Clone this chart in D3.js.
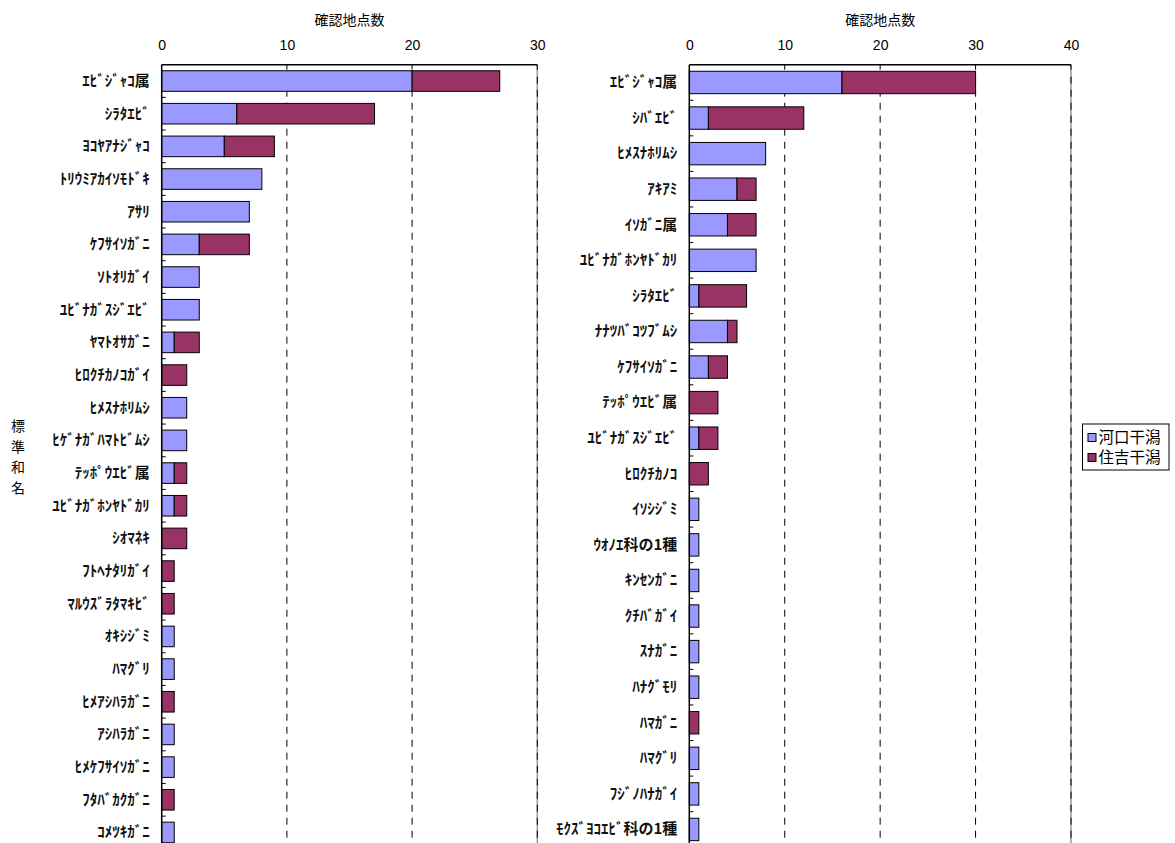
<!DOCTYPE html>
<html>
<head>
<meta charset="utf-8">
<script src="https://cdn.jsdelivr.net/npm/d3@7"></script>
<style>
  body { margin: 0; background: #fff; }
  svg { display: block; }
  .cat text { font-family: "Noto Sans CJK JP", sans-serif; font-size: 15px; font-weight: bold; fill: #111; }
  .num text { font-family: "Liberation Sans", Arial, sans-serif; font-size: 14px; fill: #000; }
  .ttl { font-family: "Noto Sans CJK JP", sans-serif; font-size: 14px; fill: #000; }
</style>
</head>
<body>
<script>
// 左：河口/住吉 上位種
var leftCategories = ['ｴﾋﾞｼﾞｬｺ属', 'ｼﾗﾀｴﾋﾞ', 'ﾖｺﾔｱﾅｼﾞｬｺ', 'ﾄﾘｳﾐｱｶｲｿﾓﾄﾞｷ', 'ｱｻﾘ', 'ｹﾌｻｲｿｶﾞﾆ',
    'ｿﾄｵﾘｶﾞｲ', 'ﾕﾋﾞﾅｶﾞｽｼﾞｴﾋﾞ', 'ﾔﾏﾄｵｻｶﾞﾆ', 'ﾋﾛｸﾁｶﾉｺｶﾞｲ', 'ﾋﾒｽﾅﾎﾘﾑｼ', 'ﾋｹﾞﾅｶﾞﾊﾏﾄﾋﾞﾑｼ',
    'ﾃｯﾎﾟｳｴﾋﾞ属', 'ﾕﾋﾞﾅｶﾞﾎﾝﾔﾄﾞｶﾘ', 'ｼｵﾏﾈｷ', 'ﾌﾄﾍﾅﾀﾘｶﾞｲ', 'ﾏﾙｳｽﾞﾗﾀﾏｷﾋﾞ', 'ｵｷｼｼﾞﾐ',
    'ﾊﾏｸﾞﾘ', 'ﾋﾒｱｼﾊﾗｶﾞﾆ', 'ｱｼﾊﾗｶﾞﾆ', 'ﾋﾒｹﾌｻｲｿｶﾞﾆ', 'ﾌﾀﾊﾞｶｸｶﾞﾆ', 'ｺﾒﾂｷｶﾞﾆ'];
var leftKawaguchi = [20, 6, 5, 8, 7, 3, 3, 3, 1, 0, 2, 2, 1, 1, 0, 0, 0, 1, 1, 0, 1, 1, 0, 1];
var leftSumiyoshi = [7, 11, 4, 0, 0, 4, 0, 0, 2, 2, 0, 0, 1, 1, 2, 1, 1, 0, 0, 1, 0, 0, 1, 0];
var leftTicks = [0, 10, 20, 30];

// 右
var rightCategories = ['ｴﾋﾞｼﾞｬｺ属', 'ｼﾊﾞｴﾋﾞ', 'ﾋﾒｽﾅﾎﾘﾑｼ', 'ｱｷｱﾐ', 'ｲｿｶﾞﾆ属', 'ﾕﾋﾞﾅｶﾞﾎﾝﾔﾄﾞｶﾘ',
    'ｼﾗﾀｴﾋﾞ', 'ﾅﾅﾂﾊﾞｺﾂﾌﾞﾑｼ', 'ｹﾌｻｲｿｶﾞﾆ', 'ﾃｯﾎﾟｳｴﾋﾞ属', 'ﾕﾋﾞﾅｶﾞｽｼﾞｴﾋﾞ', 'ﾋﾛｸﾁｶﾉｺ',
    'ｲｿｼｼﾞﾐ', 'ｳｵﾉｴ科の1種', 'ｷﾝｾﾝｶﾞﾆ', 'ｸﾁﾊﾞｶﾞｲ', 'ｽﾅｶﾞﾆ', 'ﾊﾅｸﾞﾓﾘ',
    'ﾊﾏｶﾞﾆ', 'ﾊﾏｸﾞﾘ', 'ﾌｼﾞﾉﾊﾅｶﾞｲ', 'ﾓｸｽﾞﾖｺｴﾋﾞ科の1種'];
var rightKawaguchi = [16, 2, 8, 5, 4, 7, 1, 4, 2, 0, 1, 0, 1, 1, 1, 1, 1, 1, 0, 1, 1, 1];
var rightSumiyoshi = [14, 10, 0, 2, 3, 0, 5, 1, 2, 3, 2, 2, 0, 0, 0, 0, 0, 0, 1, 0, 0, 0];
var rightTicks = [0, 10, 20, 30, 40];

var seriesNames = ['河口干潟', '住吉干潟'];
var colors = ['#9999ff', '#993366'];
var axisTitle = '確認地点数';
var yTitle = '標準和名';

var width = 1175, height = 843;
var top_ = 64.7;

var svg = d3.select('body').append('svg')
    .attr('width', width)
    .attr('height', height);

function drawPanel(cats, a, b, ticks, x0, x1, bandH) {
    var rows = cats.map(function(c, i) { return {cat: c, k: a[i], s: b[i]}; });
    var bottom = top_ + bandH * cats.length;

    var x = d3.scaleLinear().domain([0, d3.max(ticks)]).range([x0, x1]);
    var y = d3.scaleBand().domain(cats).range([top_, bottom]).paddingInner(0.37).paddingOuter(0.185);

    var g = svg.append('g');

    // gridlines
    ticks.filter(function(t) { return t > 0; }).forEach(function(t, i, arr) {
        if (i === arr.length - 1) {
            g.append('line')
                .attr('x1', x(t)).attr('x2', x(t))
                .attr('y1', top_).attr('y2', bottom)
                .attr('stroke', '#999').attr('stroke-width', 1.5);
        }
        g.append('line')
            .attr('x1', x(t)).attr('x2', x(t))
            .attr('y1', top_ + 12).attr('y2', bottom)
            .attr('stroke', '#000')
            .attr('stroke-dasharray', '7,6');
        // inner tick
        g.append('line')
            .attr('x1', x(t)).attr('x2', x(t))
            .attr('y1', top_).attr('y2', top_ + 5)
            .attr('stroke', '#000');
    });

    var stack = d3.stack().keys(['k', 's'])(rows);

    g.selectAll('g.series')
        .data(stack)
        .enter().append('g')
        .attr('class', 'series')
        .attr('fill', function(d, i) { return colors[i]; })
        .selectAll('rect')
        .data(function(d) { return d.filter(function(p) { return p[1] > p[0]; }); })
        .enter().append('rect')
        .attr('x', function(d) { return x(d[0]); })
        .attr('width', function(d) { return x(d[1]) - x(d[0]); })
        .attr('y', function(d) { return y(d.data.cat); })
        .attr('height', y.bandwidth())
        .attr('stroke', '#000')
        .attr('stroke-width', 1);

    // frame top + left axis
    g.append('line')
        .attr('x1', x0).attr('x2', x1)
        .attr('y1', top_).attr('y2', top_)
        .attr('stroke', '#000').attr('stroke-width', 1.5);
    g.append('line')
        .attr('x1', x0).attr('x2', x0)
        .attr('y1', top_).attr('y2', bottom)
        .attr('stroke', '#000').attr('stroke-width', 1.5);

    // category ticks (inside)
    d3.range(1, cats.length).forEach(function(i) {
        g.append('line')
            .attr('x1', x0).attr('x2', x0 + 4)
            .attr('y1', top_ + i * bandH).attr('y2', top_ + i * bandH)
            .attr('stroke', '#000');
    });

    // category labels
    g.append('g')
        .attr('class', 'cat')
        .attr('transform', 'translate(' + x0 + ',0)')
        .call(d3.axisLeft(y).tickSize(0).tickPadding(12))
        .call(function(s) { s.select('.domain').remove(); });

    // value axis labels
    g.append('g')
        .attr('class', 'num')
        .attr('transform', 'translate(0,' + top_ + ')')
        .call(d3.axisTop(x).tickValues(ticks).tickSize(0).tickPadding(15))
        .call(function(s) { s.select('.domain').remove(); });

    g.append('text')
        .attr('class', 'ttl')
        .attr('x', (x0 + x1) / 2)
        .attr('y', 25)
        .attr('text-anchor', 'middle')
        .text(axisTitle);
}

drawPanel(leftCategories, leftKawaguchi, leftSumiyoshi, leftTicks, 161.7, 537.3, 32.67);
drawPanel(rightCategories, rightKawaguchi, rightSumiyoshi, rightTicks, 689.3, 1071, 35.57);

// y title (vertical)
var yt = svg.append('text')
    .attr('class', 'ttl')
    .attr('text-anchor', 'middle');
yTitle.split('').forEach(function(ch, i) {
    yt.append('tspan')
        .attr('x', 18)
        .attr('y', 431 + i * 20.5)
        .text(ch);
});

// legend
var lg = svg.append('g').attr('transform', 'translate(1082.5,424)');
lg.append('rect')
    .attr('width', 86.5).attr('height', 46)
    .attr('fill', '#fff').attr('stroke', '#000');
seriesNames.forEach(function(n, i) {
    lg.append('rect')
        .attr('x', 5.5).attr('y', 9.5 + i * 20)
        .attr('width', 8).attr('height', 8)
        .attr('fill', colors[i]).attr('stroke', '#000');
    lg.append('text')
        .attr('x', 16).attr('y', 19 + i * 20)
        .style('font-family', '"Noto Sans CJK JP", sans-serif')
        .style('font-size', '15.5px')
        .text(n);
});
</script>
</body>
</html>
